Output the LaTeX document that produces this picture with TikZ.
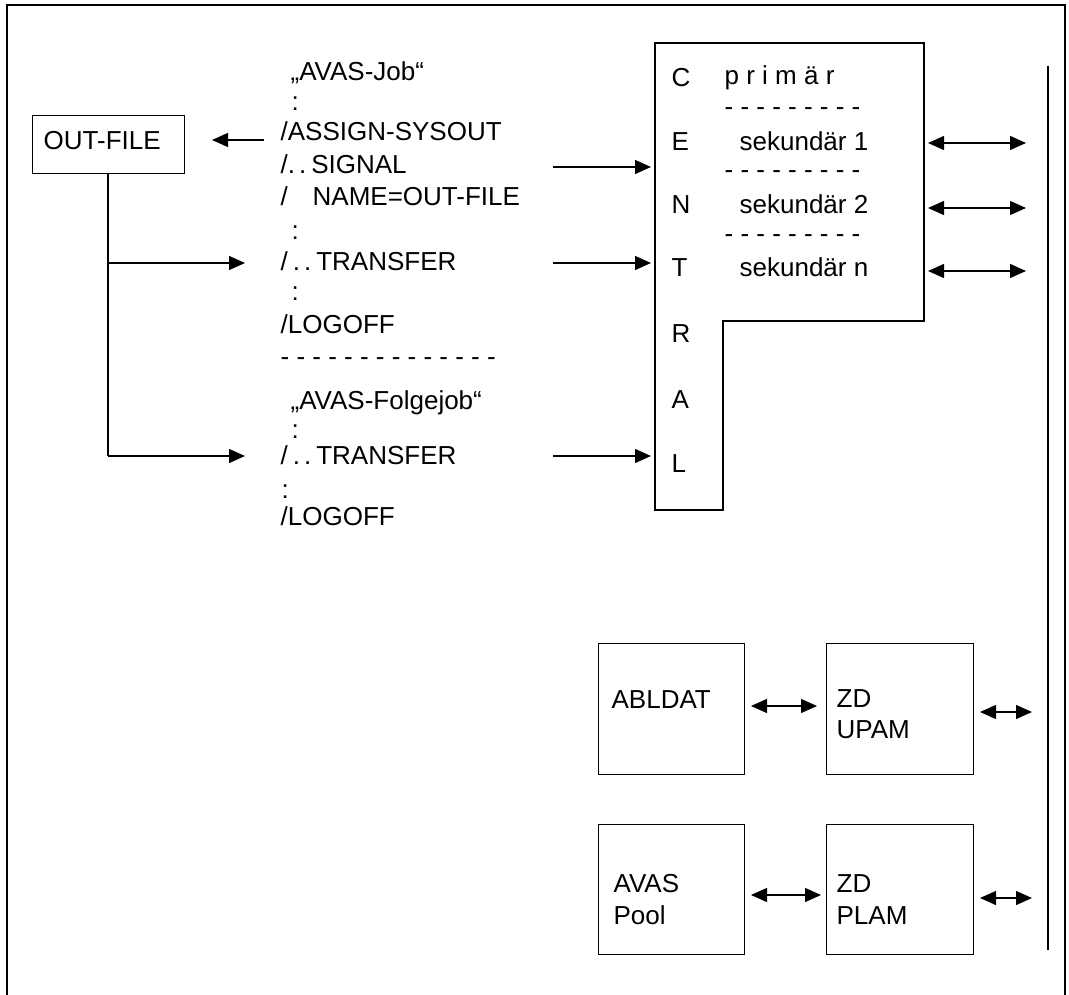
\documentclass[tikz,border=0pt]{standalone}
\usepackage{fontspec}
\setmainfont{Liberation Sans}
\usetikzlibrary{arrows.meta}
\begin{document}
\begin{tikzpicture}[x=1pt,y=-1pt,line width=1.3pt,
  txt/.style={anchor=base west,inner sep=0pt,font=\fontsize{26}{30}\selectfont},
  tip/.style={-{Triangle[length=16pt,width=14pt]}},
  dbl/.style={{Triangle[length=16pt,width=14pt]}-{Triangle[length=16pt,width=14pt]}},
  boxed/.style={draw,anchor=north west,inner sep=0pt}]
\useasboundingbox (0,0) rectangle (1069,995);
% frame
\draw (7,995) -- (7,5) -- (1065,5) -- (1065,995);

% OUT-FILE
\node[boxed,minimum width=152pt,minimum height=58pt] (outfile) at (32,115) {};
\node[txt] (oft) at (43,150) {OUT-FILE};

% job text
\node[txt] (j1) at (290,81) {„AVAS-Job“};
\node[txt] (c1) at (291,111) {:};
\node[txt] (l1) at (280,141) {/ASSIGN-SYSOUT};
\node[txt] (l2) at (280,174) {/.\kern4pt.\kern5pt SIGNAL};
\node[txt] (l3a) at (280,206) {/};
\node[txt] (l3b) at (312,206) {NAME=OUT-FILE};
\node[txt] (c2) at (291,240) {:};
\node[txt] (l4) at (280,271) {/\kern5pt.\kern4pt.\kern5pt TRANSFER};
\node[txt] (c3) at (291,301) {:};
\node[txt] (l5) at (280,334) {/LOGOFF};
\node[txt] (sep) at (280,365) {- - - - - - - - - - - - - -};
\node[txt] (j2) at (290,409) {„AVAS-Folgejob“};
\node[txt] (c4) at (291,438) {:};
\node[txt] (l6) at (280,464) {/\kern5pt.\kern4pt.\kern5pt TRANSFER};
\node[txt] (c5) at (281,498) {:};
\node[txt] (l7) at (280,525) {/LOGOFF};

% OUT-FILE connectors
\coordinate (aS) at (264,140);
\coordinate (aE) at (212,140);
\draw[tip] (aS) -- (aE);
\coordinate (b0) at (108,173);
\coordinate (b1) at (108,263);
\coordinate (b2) at (108,456);
\coordinate (b1e) at (245,263);
\coordinate (b2e) at (245,456);
\draw (b0) -- (b2);
\draw[tip] (b1) -- (b1e);
\draw[tip] (b2) -- (b2e);

% CENTRAL
\coordinate (cA) at (655,43);
\coordinate (cB) at (924,43);
\coordinate (cC) at (924,321);
\coordinate (cD) at (723,321);
\coordinate (cE) at (723,510);
\coordinate (cF) at (655,510);
\draw (cA) -- (cB) -- (cC) -- (cD) -- (cE) -- (cF) -- cycle;
\node[txt] (lC) at (671,87) {C};
\node[txt] (lE) at (671,151) {E};
\node[txt] (lN) at (671,214) {N};
\node[txt] (lT) at (671,277) {T};
\node[txt] (lR) at (671,342) {R};
\node[txt] (lA) at (671,408) {A};
\node[txt] (lL) at (671,472) {L};
\node[txt] (prim) at (724,85) {p r i m ä r};
\node[txt] (d1) at (724,116) {- - - - - - - - -};
\node[txt] (s1) at (739,151) {sekundär 1};
\node[txt] (d2) at (724,179) {- - - - - - - - -};
\node[txt] (s2) at (739,214) {sekundär 2};
\node[txt] (d3) at (724,243) {- - - - - - - - -};
\node[txt] (s3) at (739,277) {sekundär n};

% arrows into CENTRAL
\coordinate (p1) at (553,167); \coordinate (q1) at (651,167);
\coordinate (p2) at (553,263); \coordinate (q2) at (651,263);
\coordinate (p3) at (553,456); \coordinate (q3) at (651,456);
\draw[tip] (p1) -- (q1);
\draw[tip] (p2) -- (q2);
\draw[tip] (p3) -- (q3);

% double arrows right of CENTRAL
\coordinate (r1) at (928,143); \coordinate (t1) at (1026,143);
\coordinate (r2) at (928,208); \coordinate (t2) at (1026,208);
\coordinate (r3) at (928,271); \coordinate (t3) at (1026,271);
\draw[dbl] (r1) -- (t1);
\draw[dbl] (r2) -- (t2);
\draw[dbl] (r3) -- (t3);

% bus line
\coordinate (busT) at (1048,66);
\coordinate (busB) at (1048,950);
\draw (busT) -- (busB);

% lower boxes
\node[boxed,minimum width=146pt,minimum height=131pt] (abl) at (598,643) {};
\node[boxed,minimum width=147pt,minimum height=131pt] (upam) at (826,643) {};
\node[boxed,minimum width=146pt,minimum height=130pt] (pool) at (598,824) {};
\node[boxed,minimum width=147pt,minimum height=130pt] (plam) at (826,824) {};
\node[txt] (ablt) at (611,708) {ABLDAT};
\node[txt] (zd1) at (836,707) {ZD};
\node[txt] (upt) at (836,738) {UPAM};
\node[txt] (avt) at (613,892) {AVAS};
\node[txt] (pot) at (613,924) {Pool};
\node[txt] (zd2) at (836,892) {ZD};
\node[txt] (plt) at (836,924) {PLAM};

\coordinate (ua) at (751,706); \coordinate (ub) at (817,706);
\coordinate (va) at (751,895); \coordinate (vb) at (821,895);
\coordinate (wa) at (980,712); \coordinate (wb) at (1032,712);
\coordinate (xa) at (980,898); \coordinate (xb) at (1032,898);
\draw[dbl] (ua) -- (ub);
\draw[dbl] (va) -- (vb);
\draw[dbl] (wa) -- (wb);
\draw[dbl] (xa) -- (xb);
\end{tikzpicture}
\end{document}
